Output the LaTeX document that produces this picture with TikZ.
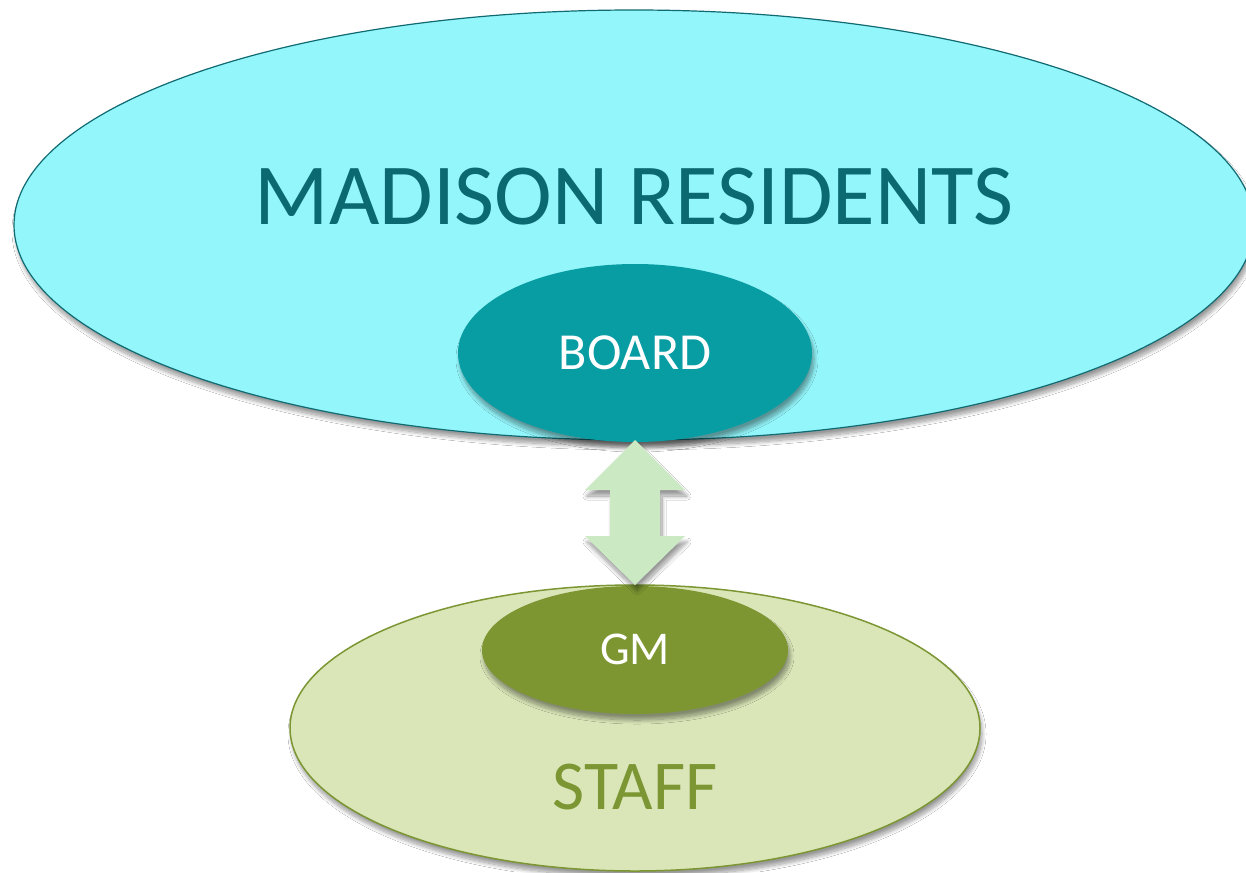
\documentclass[tikz,border=0pt]{standalone}
\usepackage{fontspec}
\setmainfont{Carlito}
\usetikzlibrary{shapes.geometric,shadows.blur,calc}
\definecolor{resfill}{HTML}{93F6FB}
\definecolor{resline}{HTML}{0F6A72}
\definecolor{restext}{HTML}{0B6971}
\definecolor{boardfill}{HTML}{089CA3}
\definecolor{stafffill}{HTML}{DAE6B8}
\definecolor{staffline}{HTML}{7B9632}
\definecolor{gmfill}{HTML}{7D9632}
\definecolor{arrowfill}{HTML}{CBEAC4}
\tikzset{
  oval/.style={ellipse, inner sep=0pt, outer sep=0pt},
  softshadow/.style={blur shadow={shadow xshift=2pt, shadow yshift=-6pt, shadow blur radius=4pt, shadow opacity=40, shadow blur steps=12}},
  lbl/.style={inner sep=0pt, outer sep=0pt, anchor=center}
}
\begin{document}
\begin{tikzpicture}[x=1pt,y=-1pt]
\useasboundingbox (0,0) rectangle (1246,872);
\clip (0,0) rectangle (1246,872);
\fill[white] (0,0) rectangle (1246,872);
% residents
\node[oval, minimum width=1240pt, minimum height=430pt, fill=resfill, draw=resline, line width=1.2pt, softshadow] (res) at (634,225) {};
\node[lbl, text=restext, font=\fontsize{87}{90}\selectfont] (restxt) at (634,197) {MADISON RESIDENTS};
% board
\node[oval, minimum width=354pt, minimum height=178pt, fill=boardfill, softshadow] (board) at (635,353) {};
\node[lbl, text=white, font=\fontsize{52}{54}\selectfont] (boardtxt) at (635,353) {BOARD};
% staff
\node[oval, minimum width=690pt, minimum height=286pt, fill=stafffill, draw=staffline, line width=1.5pt, softshadow] (staff) at (635,728) {};
\node[lbl, text=staffline, font=\fontsize{70}{72}\selectfont] (stafftxt) at (635,787) {STAFF};
% gm
\node[oval, minimum width=306pt, minimum height=128pt, fill=gmfill, softshadow] (gm) at (635,650) {};
\node[lbl, text=white, font=\fontsize{47}{50}\selectfont] (gmtxt) at (635,649) {GM};
% double arrow
\coordinate (top) at ($(board.south)+(0,-2)$);
\coordinate (bot) at ($(gm.north)+(0,-1)$);
\fill[arrowfill, softshadow]
  (top) -- ($(top)+(50,50)$) -- ($(top)+(25,50)$) -- ($(bot)+(25,-49)$) -- ($(bot)+(50,-49)$)
  -- (bot) -- ($(bot)+(-50,-49)$) -- ($(bot)+(-25,-49)$) -- ($(top)+(-25,50)$) -- ($(top)+(-50,50)$) -- cycle;
\end{tikzpicture}
\end{document}
